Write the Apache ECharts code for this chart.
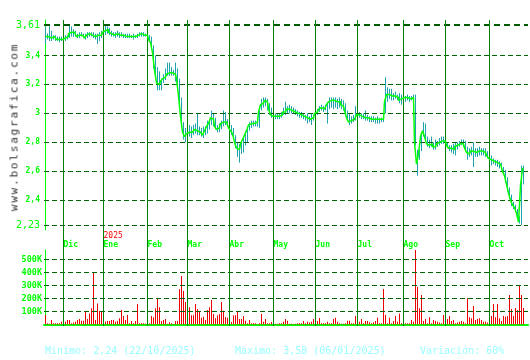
<!DOCTYPE html>
<html><head><meta charset="utf-8">
<script src="https://cdn.jsdelivr.net/npm/echarts@6/dist/echarts.min.js"></script>
<style>
html,body{margin:0;padding:0;background:#fff;}
#wrap{position:relative;width:530px;height:360px;}
#c{width:530px;height:360px;}
#wm{position:absolute;left:13.5px;top:127px;transform:translate(-50%,-50%) rotate(-90deg);font-family:'DejaVu Sans Mono',monospace;font-size:11px;letter-spacing:1.8px;color:#303030;white-space:nowrap;line-height:11px;}
</style></head><body>
<div id="wrap"><div id="c"></div><div id="wm">www.bolsagrafica.com</div></div>
<script>
// month boundaries (trading-day index) and names
const monthIdx = [9, 29, 51, 71, 92, 114, 135, 156, 179, 200, 222];
const monthNames = ['Dic','Ene','Feb','Mar','Abr','May','Jun','Jul','Ago','Sep','Oct'];
const yearLabels = {Ene: '2025'};
const priceTicks = [2.23, 2.4, 2.6, 2.8, 3, 3.2, 3.4, 3.61];
const volTicks = [100, 200, 300, 400, 500];

const close = [
3.53,3.53,3.52,3.52,3.53,3.52,3.51,3.51,3.51,3.51,3.52,3.53,3.55,3.56,3.56,3.55,3.53,3.54,3.54,3.53,
3.52,3.54,3.55,3.54,3.54,3.53,3.54,3.54,3.54,3.56,3.57,3.58,3.56,3.55,3.54,3.54,3.55,3.54,3.54,3.54,
3.53,3.54,3.53,3.53,3.53,3.53,3.54,3.54,3.55,3.54,3.54,3.54,3.51,3.49,3.42,3.30,3.21,3.20,3.22,3.24,
3.25,3.27,3.28,3.28,3.28,3.27,3.24,3.12,2.98,2.87,2.84,2.86,2.87,2.87,2.88,2.89,2.88,2.87,2.86,2.85,
2.88,2.91,2.93,2.97,2.96,2.91,2.89,2.90,2.93,2.94,2.94,2.93,2.90,2.88,2.86,2.80,2.76,2.75,2.79,2.82,
2.85,2.88,2.92,2.93,2.93,2.93,2.94,3.01,3.06,3.07,3.09,3.08,3.03,2.99,2.98,2.98,2.99,2.98,2.99,3.01,
3.01,3.03,3.03,3.02,3.02,3.01,3.00,2.99,2.99,2.98,2.97,2.97,2.96,2.97,2.97,3.00,3.01,3.03,3.04,3.03,
3.04,3.06,3.08,3.09,3.09,3.08,3.08,3.08,3.06,3.05,3.02,2.97,2.94,2.95,2.96,2.97,2.99,2.99,2.98,2.98,
2.97,2.97,2.96,2.96,2.96,2.95,2.96,2.96,2.95,2.96,3.08,3.13,3.13,3.12,3.11,3.12,3.11,3.09,3.10,3.11,
3.10,3.11,3.10,3.11,3.11,2.80,2.65,2.72,2.84,2.88,2.84,2.79,2.78,2.79,2.77,2.77,2.79,2.80,2.81,2.82,
2.81,2.78,2.76,2.76,2.75,2.77,2.78,2.79,2.80,2.79,2.76,2.73,2.72,2.74,2.74,2.73,2.73,2.74,2.74,2.74,
2.73,2.71,2.69,2.68,2.67,2.66,2.66,2.65,2.64,2.60,2.57,2.51,2.45,2.40,2.37,2.35,2.31,2.25,2.50,2.62];

const high = [
3.60,3.55,3.60,3.57,3.54,3.54,3.53,3.53,3.53,3.54,3.54,3.54,3.61,3.60,3.58,3.57,3.55,3.56,3.56,3.55,
3.55,3.56,3.56,3.56,3.56,3.55,3.55,3.56,3.57,3.58,3.61,3.60,3.59,3.57,3.56,3.56,3.57,3.56,3.56,3.55,
3.55,3.55,3.55,3.54,3.55,3.54,3.55,3.56,3.56,3.56,3.55,3.55,3.54,3.53,3.47,3.40,3.32,3.29,3.24,3.27,
3.31,3.35,3.35,3.32,3.30,3.35,3.31,3.24,3.11,2.94,2.90,2.92,2.92,2.91,2.92,2.93,3.00,2.91,2.90,2.91,
2.91,2.95,2.96,3.02,3.00,2.97,2.92,2.93,2.95,3.02,3.01,2.96,2.94,2.92,2.90,2.85,2.80,2.79,2.81,2.84,
2.88,2.91,2.94,2.95,2.95,2.95,2.95,3.02,3.10,3.11,3.11,3.10,3.07,3.04,3.00,3.00,3.00,3.00,3.01,3.04,
3.08,3.05,3.06,3.05,3.04,3.03,3.02,3.01,3.01,3.00,2.99,3.00,2.98,3.00,2.99,3.01,3.03,3.05,3.06,3.05,
3.06,3.08,3.11,3.11,3.11,3.11,3.10,3.11,3.10,3.09,3.07,3.02,3.00,2.98,2.99,3.05,3.01,3.01,3.00,3.00,
3.02,2.99,2.98,2.98,2.98,2.97,2.98,2.97,2.97,2.97,3.25,3.18,3.17,3.17,3.14,3.15,3.13,3.14,3.13,3.13,
3.12,3.13,3.12,3.12,3.13,3.13,2.75,2.75,2.87,2.94,2.93,2.84,2.82,2.84,2.80,2.82,2.81,2.83,2.84,2.84,
2.83,2.80,2.78,2.78,2.79,2.80,2.80,2.81,2.82,2.82,2.81,2.77,2.76,2.77,2.80,2.76,2.76,2.77,2.76,2.76,
2.76,2.74,2.72,2.71,2.69,2.68,2.68,2.67,2.66,2.63,2.61,2.56,2.49,2.44,2.39,2.37,2.34,2.29,2.64,2.64];

const low = [
3.48,3.51,3.50,3.50,3.51,3.50,3.50,3.49,3.50,3.49,3.50,3.51,3.52,3.53,3.53,3.53,3.52,3.52,3.53,3.52,
3.51,3.52,3.53,3.53,3.52,3.51,3.48,3.50,3.52,3.53,3.54,3.55,3.54,3.53,3.53,3.52,3.53,3.52,3.53,3.52,
3.52,3.52,3.52,3.52,3.51,3.52,3.52,3.53,3.53,3.53,3.53,3.52,3.49,3.44,3.31,3.25,3.16,3.16,3.16,3.21,
3.23,3.26,3.26,3.26,3.26,3.22,3.20,3.04,2.92,2.82,2.80,2.84,2.84,2.83,2.85,2.86,2.85,2.85,2.84,2.83,
2.85,2.86,2.89,2.92,2.91,2.89,2.87,2.87,2.89,2.91,2.92,2.91,2.87,2.85,2.83,2.76,2.70,2.66,2.72,2.73,
2.78,2.80,2.88,2.90,2.91,2.91,2.91,2.90,3.02,3.04,3.05,3.02,2.99,2.97,2.96,2.96,2.96,2.96,2.97,2.99,
2.99,3.00,3.00,3.00,3.00,2.99,2.98,2.97,2.97,2.96,2.95,2.93,2.94,2.92,2.95,2.96,2.99,3.01,3.02,3.01,
3.02,2.93,3.03,3.04,3.03,3.04,3.03,3.04,3.03,3.02,3.00,2.95,2.92,2.93,2.94,2.95,2.96,2.97,2.96,2.96,
2.95,2.95,2.94,2.94,2.94,2.93,2.93,2.93,2.94,2.94,3.00,3.08,3.10,3.09,3.09,3.10,3.09,3.07,3.06,3.09,
3.08,3.09,3.08,3.09,3.09,2.78,2.57,2.68,2.74,2.84,2.82,2.77,2.76,2.77,2.75,2.75,2.77,2.78,2.79,2.79,
2.78,2.76,2.74,2.73,2.72,2.71,2.75,2.77,2.78,2.77,2.74,2.68,2.70,2.71,2.63,2.70,2.70,2.71,2.71,2.71,
2.70,2.69,2.67,2.64,2.65,2.64,2.63,2.62,2.61,2.58,2.52,2.46,2.41,2.36,2.34,2.32,2.28,2.24,2.23,2.51];

// volume in thousands
const volK = [
73,9,5,34,9,9,9,9,21,21,21,34,34,9,14,21,34,42,29,29,
103,42,85,124,401,34,162,103,103,50,21,26,26,34,34,21,26,47,111,65,
34,73,9,26,9,26,157,9,9,9,5,55,9,65,55,124,196,132,26,34,
42,5,16,9,4,26,26,270,373,257,173,110,132,70,70,157,119,103,52,60,
34,111,132,188,80,47,70,80,173,105,57,52,20,19,70,70,103,42,42,65,
29,9,34,9,9,9,4,9,80,21,42,9,9,19,10,5,5,9,9,21,
42,29,5,5,4,5,9,9,9,26,9,21,14,21,42,15,26,50,9,9,
9,21,9,9,42,52,21,9,5,5,9,29,29,9,9,65,20,21,42,9,
26,26,16,9,16,26,52,9,9,273,73,9,52,9,26,65,21,85,9,20,
9,9,9,34,21,575,290,124,226,26,42,9,55,9,34,26,21,14,9,73,
30,42,65,26,34,9,14,21,26,21,9,201,55,47,142,34,42,47,34,21,
21,14,40,65,157,55,157,47,26,65,60,65,226,119,65,126,111,301,226,126];

const GREEN = '#00ff00';
const MONO = "'DejaVu Sans Mono', monospace";
const X0 = -0.75, X1 = 241.25;

const chart = echarts.init(document.getElementById('c'), null, {renderer: 'canvas'});
const fmtPrice = v => String(+(+v).toFixed(2)).replace('.', ',');
const isEnd = v => Math.abs(v - 2.23) < 1e-6 || Math.abs(v - 3.61) < 1e-6;

chart.setOption({
  animation: false,
  backgroundColor: '#ffffff',
  grid: [
    {left: 44, right: 2, top: 20, height: 210},
    {left: 44, right: 2, top: 250, height: 75},
    {left: 44, right: 2, top: 20, height: 306}
  ],
  xAxis: [
    {gridIndex: 0, type: 'value', min: X0, max: X1,
     axisLine: {show: false}, axisTick: {show: false}, splitLine: {show: false},
     axisLabel: {customValues: monthIdx, align: 'left', margin: 1,
       formatter: v => { const n = monthNames[monthIdx.indexOf(Math.round(v))]; return '{y|' + (yearLabels[n] || ' ') + '}\n{m|' + n + '}'; },
       rich: {
         y: {color: '#ff0000', fontSize: 8, fontFamily: MONO, lineHeight: 9},
         m: {color: GREEN, fontSize: 8, fontWeight: 'bold', fontFamily: MONO, lineHeight: 9}
       }}},
    {gridIndex: 1, type: 'value', min: X0, max: X1,
     axisLine: {show: true, onZero: false, lineStyle: {color: GREEN, width: 2}},
     axisTick: {show: false}, axisLabel: {show: false}, splitLine: {show: false}},
    {gridIndex: 2, type: 'value', min: X0, max: X1, show: false}
  ],
  yAxis: [
    {gridIndex: 0, type: 'value', min: 2.1955, max: 3.6445,
     axisLine: {show: true, lineStyle: {color: GREEN, width: 1}},
     axisTick: {show: false}, splitLine: {show: false},
     axisLabel: {customValues: priceTicks, margin: 4, color: GREEN, fontSize: 8, fontWeight: 'bold', fontFamily: MONO,
       formatter: v => isEnd(v) ? '{b|' + fmtPrice(v) + '}' : fmtPrice(v),
       rich: {b: {fontSize: 10, fontWeight: 'normal', color: GREEN, fontFamily: MONO}}}},
    {gridIndex: 1, type: 'value', min: -4.3, max: 572.6,
     axisLine: {show: true, lineStyle: {color: GREEN, width: 1}},
     axisTick: {show: false}, splitLine: {show: false},
     axisLabel: {customValues: volTicks, margin: 2, color: GREEN, fontSize: 8.5, fontWeight: 'bold', fontFamily: MONO,
       formatter: v => v + 'K'}},
    {gridIndex: 2, type: 'value', min: 0, max: 1, show: false}
  ],
  series: [
    {type: 'line', xAxisIndex: 0, yAxisIndex: 0, data: [], z: 1, silent: true,
     markLine: {silent: true, symbol: ['none', 'none'], label: {show: false}, animation: false,
       data: priceTicks.map(v => ({yAxis: v, lineStyle: Math.abs(v - 3.61) < 1e-6
         ? {color: '#005a00', width: 2, type: [6, 4]}
         : {color: '#006400', width: 1, type: [5, 3]}}))}},
    {type: 'line', xAxisIndex: 1, yAxisIndex: 1, data: [], z: 1, silent: true,
     markLine: {silent: true, symbol: ['none', 'none'], label: {show: false}, animation: false,
       lineStyle: {color: '#006400', width: 1, type: [5, 3]},
       data: volTicks.map(v => ({yAxis: v}))}},
    {type: 'custom', xAxisIndex: 1, yAxisIndex: 1, z: 2, silent: true, clip: true,
     data: volK.map((v, i) => [i, v]),
     renderItem: (p, api) => {
       const t = api.coord([api.value(0), api.value(1)]);
       const b = api.coord([api.value(0), 0]);
       return {type: 'rect', shape: {x: t[0] - 0.5, y: t[1], width: 1, height: b[1] - t[1]}, style: {fill: '#ee0000'}};
     }},
    {type: 'line', xAxisIndex: 2, yAxisIndex: 2, data: [], z: 3, silent: true,
     markLine: {silent: true, symbol: ['none', 'none'], label: {show: false}, animation: false,
       lineStyle: {color: '#008000', width: 1, type: 'solid', opacity: 1},
       data: monthIdx.map(i => ({xAxis: i}))}},
    {type: 'custom', xAxisIndex: 0, yAxisIndex: 0, z: 4, silent: true,
     data: close.map((c, i) => [i, high[i], low[i]]),
     renderItem: (p, api) => {
       const a = api.coord([api.value(0), api.value(1)]);
       const b = api.coord([api.value(0), api.value(2)]);
       return {type: 'line', shape: {x1: a[0], y1: a[1], x2: b[0], y2: b[1]}, style: {stroke: '#1fa2ad', lineWidth: 1}};
     }},
    {type: 'line', xAxisIndex: 0, yAxisIndex: 0, z: 5, step: 'middle', showSymbol: false, silent: true,
     data: close.map((c, i) => [i, c]), lineStyle: {color: GREEN, width: 1.5}}
  ],
  graphic: [
    {type: 'text', left: 45, top: 346, style: {text: 'Minimo: 2,24 (22/10/2025)', fill: '#99ffff', font: "10px 'DejaVu Sans Mono'"}},
    {type: 'text', left: 235, top: 346, style: {text: 'Maximo: 3,58 (06/01/2025)', fill: '#99ffff', font: "10px 'DejaVu Sans Mono'"}},
    {type: 'text', left: 420, top: 346, style: {text: 'Variación: 60%', fill: '#99ffff', font: "10px 'DejaVu Sans Mono'"}}
  ]
});
</script>
</body></html>
